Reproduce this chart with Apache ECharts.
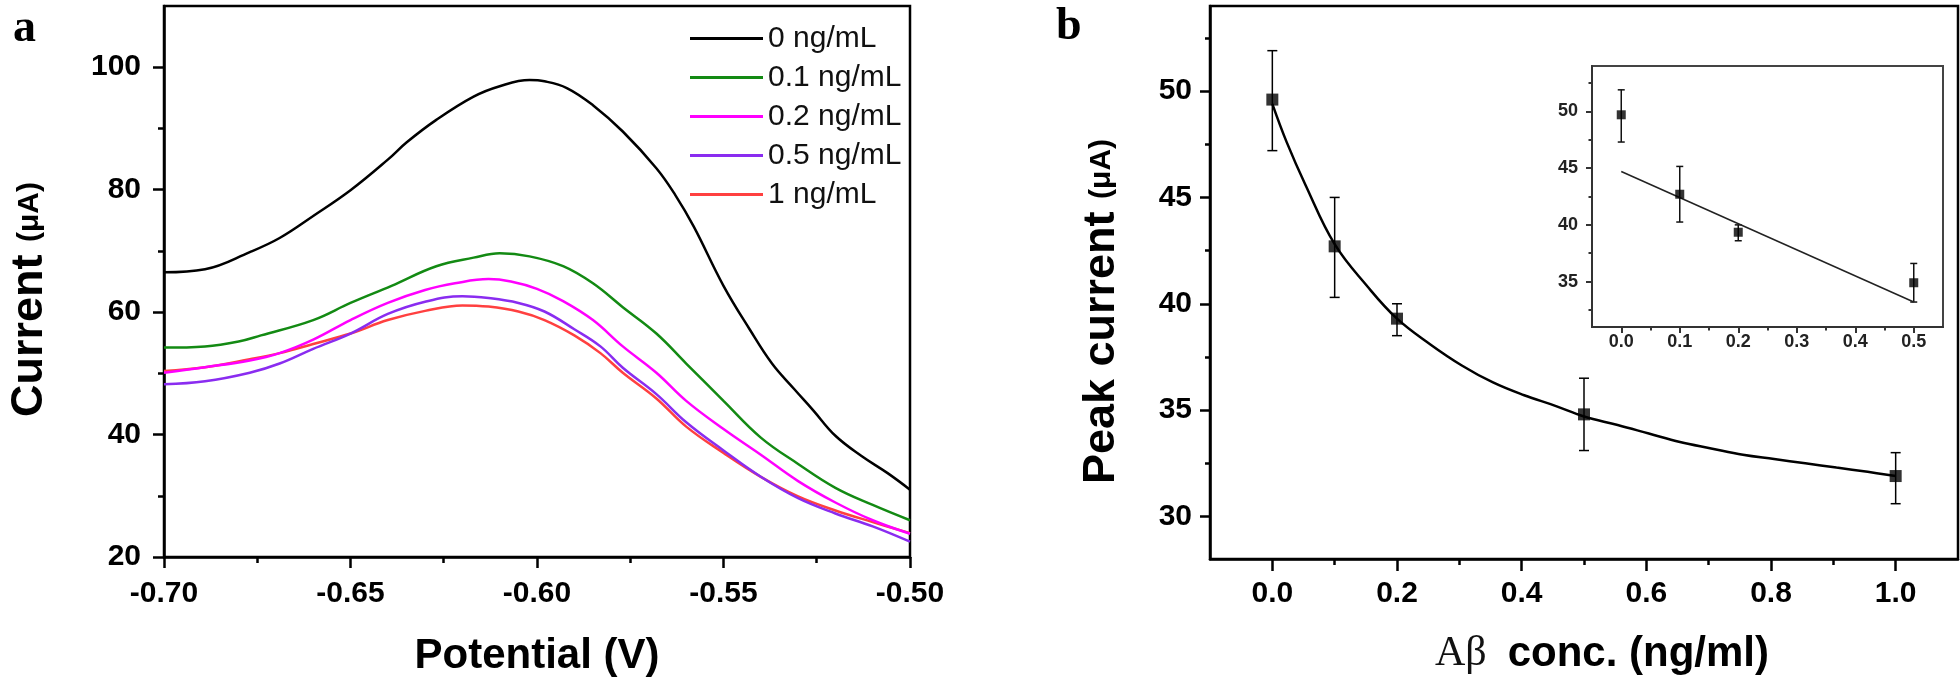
<!DOCTYPE html>
<html>
<head>
<meta charset="utf-8">
<script src="https://cdn.jsdelivr.net/npm/echarts@6/dist/echarts.min.js"></script>
<style>
html,body{margin:0;padding:0;background:#fff;}
#chart{width:1960px;height:682px;}
</style>
</head>
<body>
<div id="chart"></div>
<script>
// ---------- Panel a: DPV curves ----------
const seriesNamesA = ['0 ng/mL', '0.1 ng/mL', '0.2 ng/mL', '0.5 ng/mL', '1 ng/mL'];
const colorsA = ['#000000', '#138a13', '#ff00ff', '#8a2cf0', '#ff4040'];
const curve0 = [[-0.700,66.5],[-0.689,67.0],[-0.677,69.8],[-0.669,72.1],[-0.660,75.7],[-0.650,79.9],[-0.640,84.9],[-0.635,87.7],[-0.627,91.4],[-0.617,95.2],[-0.610,96.9],[-0.602,97.9],[-0.598,97.7],[-0.592,96.6],[-0.585,93.8],[-0.577,89.5],[-0.568,83.5],[-0.563,79.2],[-0.558,74.0],[-0.550,64.3],[-0.543,57.2],[-0.537,51.6],[-0.531,47.4],[-0.526,44.0],[-0.520,39.8],[-0.513,36.5],[-0.506,33.7],[-0.500,31.0]];
const curve01 = [[-0.700,54.2],[-0.689,54.4],[-0.680,55.2],[-0.674,56.2],[-0.660,58.7],[-0.650,61.5],[-0.639,64.3],[-0.627,67.5],[-0.617,68.9],[-0.610,69.6],[-0.602,69.1],[-0.593,67.5],[-0.585,64.7],[-0.577,60.8],[-0.568,56.5],[-0.560,51.6],[-0.550,45.5],[-0.540,39.5],[-0.530,35.2],[-0.520,31.3],[-0.510,28.5],[-0.500,26.0]];
const curve02 = [[-0.700,50.1],[-0.689,51.0],[-0.677,52.1],[-0.669,53.3],[-0.660,55.5],[-0.650,58.7],[-0.640,61.5],[-0.630,63.6],[-0.622,64.7],[-0.613,65.4],[-0.607,65.0],[-0.600,63.8],[-0.593,61.8],[-0.585,58.7],[-0.577,54.4],[-0.568,50.1],[-0.560,45.5],[-0.550,40.9],[-0.540,36.7],[-0.530,32.4],[-0.520,28.9],[-0.510,26.0],[-0.500,23.8]];
const curve05 = [[-0.700,48.2],[-0.689,48.7],[-0.677,50.1],[-0.669,51.6],[-0.660,54.0],[-0.650,56.5],[-0.640,59.7],[-0.630,61.7],[-0.620,62.6],[-0.613,62.3],[-0.605,61.5],[-0.598,60.1],[-0.590,57.2],[-0.583,54.4],[-0.577,50.9],[-0.568,46.6],[-0.560,42.0],[-0.550,37.4],[-0.540,33.1],[-0.530,29.6],[-0.520,27.1],[-0.510,25.0],[-0.500,22.5]];
const curve1 = [[-0.700,50.4],[-0.689,51.0],[-0.677,52.3],[-0.669,53.3],[-0.660,54.8],[-0.650,56.5],[-0.640,58.7],[-0.630,60.2],[-0.620,61.1],[-0.613,60.9],[-0.605,60.1],[-0.598,58.7],[-0.590,56.2],[-0.583,53.3],[-0.577,50.1],[-0.568,45.9],[-0.560,41.3],[-0.550,37.0],[-0.540,33.1],[-0.530,29.9],[-0.520,27.6],[-0.510,25.7],[-0.500,23.9]];
const curvesA = [curve0, curve01, curve02, curve05, curve1];
const xTicksA = [-0.70, -0.65, -0.60, -0.55, -0.50];
const xMinorA = [-0.675, -0.625, -0.575, -0.525];
const yTicksA = [20, 40, 60, 80, 100];
const yMinorA = [30, 50, 70, 90];

// ---------- Panel b: peak current vs concentration ----------
const concB = [0, 0.1, 0.2, 0.5, 1.0];
const peakB = [49.6, 42.7, 39.3, 34.8, 31.9];
const errLowB = [47.2, 40.3, 38.5, 33.1, 30.6];
const errHighB = [51.9, 45.0, 40.0, 36.5, 33.0];
const fitXB = [0, 0.023, 0.053, 0.1, 0.153, 0.2, 0.253, 0.304, 0.354, 0.404, 0.454, 0.5, 0.554, 0.604, 0.654, 0.704, 0.755, 0.805, 0.855, 0.905, 0.955, 1.0];
const fitYB = [49.4, 47.6, 45.6, 42.8, 40.8, 39.3, 38.1, 37.1, 36.3, 35.7, 35.2, 34.7, 34.3, 33.9, 33.5, 33.2, 32.9, 32.7, 32.5, 32.3, 32.1, 31.9];
const xTicksB = [0, 0.2, 0.4, 0.6, 0.8, 1.0];
const xMinorB = [0.1, 0.3, 0.5, 0.7, 0.9];
const yTicksB = [30, 35, 40, 45, 50];
const yMinorB = [32.5, 37.5, 42.5, 47.5, 52.5];

// ---------- Inset: linear range ----------
const concI = [0, 0.1, 0.2, 0.5];
const peakI = [49.7, 42.7, 39.35, 34.9];
const errLowI = [47.3, 40.25, 38.6, 33.2];
const errHighI = [51.9, 45.15, 40.0, 36.6];
const fitXI = [0, 0.5];
const fitYI = [44.7, 33.2];
const xTicksI = [0, 0.1, 0.2, 0.3, 0.4, 0.5];
const xMinorI = [0.05, 0.15, 0.25, 0.35, 0.45];
const yTicksI = [35, 40, 45, 50];
const yMinorI = [32.5, 37.5, 42.5, 47.5, 52.5];

const FF = "'Liberation Sans', Arial, Helvetica, sans-serif";
const SERIF = "'Liberation Serif', 'Times New Roman', serif";

function majorAxis(o) {
  return {
    type: 'value', gridIndex: o.grid, min: o.min, max: o.max, position: o.position,
    splitLine: {show: false},
    axisLine: {show: true, onZero: false, lineStyle: {color: o.lineColor || '#000', width: o.lw}},
    axisTick: {show: true, inside: false, length: o.tickLen, customValues: o.ticks, lineStyle: {color: o.lineColor || '#000', width: o.lw}},
    axisLabel: {show: true, customValues: o.ticks, margin: o.margin, color: o.labelColor || '#000',
      fontFamily: FF, fontWeight: 'bold', fontSize: o.fontSize, formatter: o.fmt},
    name: o.name || '', nameLocation: 'middle', nameGap: o.nameGap || 0, nameRotate: o.nameRotate,
    nameTextStyle: o.nameTextStyle || {}
  };
}
function minorAxis(o) {
  return {
    type: 'value', gridIndex: o.grid, min: o.min, max: o.max, position: o.position,
    splitLine: {show: false},
    axisLine: {show: false, onZero: false},
    axisTick: {show: true, inside: false, length: o.tickLen, customValues: o.ticks, lineStyle: {color: o.lineColor || '#000', width: o.lw}},
    axisLabel: {show: false, customValues: o.ticks}
  };
}

function errRender(capW, lw, color) {
  return function (params, api) {
    const x = api.value(0), lo = api.value(1), hi = api.value(2);
    const p1 = api.coord([x, lo]), p2 = api.coord([x, hi]);
    const st = {stroke: color, lineWidth: lw};
    return {type: 'group', children: [
      {type: 'line', shape: {x1: p1[0], y1: p1[1], x2: p2[0], y2: p2[1]}, style: st},
      {type: 'line', shape: {x1: p1[0] - capW, y1: p1[1], x2: p1[0] + capW, y2: p1[1]}, style: st},
      {type: 'line', shape: {x1: p2[0] - capW, y1: p2[1], x2: p2[0] + capW, y2: p2[1]}, style: st}
    ]};
  };
}

const chart = echarts.init(document.getElementById('chart'), null, {renderer: 'canvas'});

const xAxes = [
  majorAxis({grid: 0, min: -0.7, max: -0.5, position: 'bottom', lw: 2.5, tickLen: 11, ticks: xTicksA, margin: 22, fontSize: 30,
    fmt: v => v.toFixed(2), name: 'Potential (V)', nameGap: 78,
    nameTextStyle: {fontFamily: FF, fontWeight: 'bold', fontSize: 42, color: '#000'}}),
  minorAxis({grid: 0, min: -0.7, max: -0.5, position: 'bottom', lw: 2.5, tickLen: 6, ticks: xMinorA}),
  majorAxis({grid: 1, min: -0.1, max: 1.1, position: 'bottom', lw: 2.5, tickLen: 12, ticks: xTicksB, margin: 20, fontSize: 30,
    fmt: v => v.toFixed(1), name: '{s|Aβ\u00a0\u00a0}{b|conc. (ng/ml)}', nameGap: 74,
    nameTextStyle: {padding: [0, 0, 0, 36], rich: {
      s: {fontFamily: SERIF, fontSize: 42, color: '#111'},
      b: {fontFamily: FF, fontWeight: 'bold', fontSize: 42, color: '#000'}}}}),
  minorAxis({grid: 1, min: -0.1, max: 1.1, position: 'bottom', lw: 2.5, tickLen: 6, ticks: xMinorB}),
  majorAxis({grid: 2, min: -0.05, max: 0.55, position: 'bottom', lw: 2, lineColor: '#333', tickLen: 6, ticks: xTicksI, margin: 6, fontSize: 18,
    labelColor: '#222', fmt: v => v.toFixed(1)}),
  minorAxis({grid: 2, min: -0.05, max: 0.55, position: 'bottom', lw: 2, lineColor: '#333', tickLen: 3.5, ticks: xMinorI})
];
const yAxes = [
  majorAxis({grid: 0, min: 20, max: 110, position: 'left', lw: 2.5, tickLen: 11, ticks: yTicksA, margin: 23, fontSize: 30,
    fmt: v => String(v), name: '{a|Current\u00a0}{b|(μA)}', nameGap: 112, nameRotate: 90,
    nameTextStyle: {padding: [0, 36, 0, 0], rich: {
      a: {fontFamily: FF, fontWeight: 'bold', fontSize: 45, color: '#000'},
      b: {fontFamily: FF, fontWeight: 'bold', fontSize: 30, color: '#000'}}}}),
  minorAxis({grid: 0, min: 20, max: 110, position: 'left', lw: 2.5, tickLen: 6, ticks: yMinorA}),
  majorAxis({grid: 1, min: 28, max: 54, position: 'left', lw: 2.5, tickLen: 10, ticks: yTicksB, margin: 18, fontSize: 30,
    fmt: v => String(v), name: '{a|Peak current\u00a0}{b|(μA)}', nameGap: 86, nameRotate: 90,
    nameTextStyle: {padding: [0, 58, 0, 0], rich: {
      a: {fontFamily: FF, fontWeight: 'bold', fontSize: 45, color: '#000'},
      b: {fontFamily: FF, fontWeight: 'bold', fontSize: 30, color: '#000'}}}}),
  minorAxis({grid: 1, min: 28, max: 54, position: 'left', lw: 2.5, tickLen: 5, ticks: yMinorB}),
  majorAxis({grid: 2, min: 31, max: 54, position: 'left', lw: 2, lineColor: '#333', tickLen: 6, ticks: yTicksI, margin: 14, fontSize: 18,
    labelColor: '#222', fmt: v => String(v)}),
  minorAxis({grid: 2, min: 31, max: 54, position: 'left', lw: 2, lineColor: '#333', tickLen: 3.5, ticks: yMinorI})
];

const series = [];
curvesA.forEach((d, i) => {
  series.push({
    name: seriesNamesA[i], type: 'line', xAxisIndex: 0, yAxisIndex: 0, data: d,
    showSymbol: false, symbol: 'none', smooth: 0.4, color: colorsA[i],
    lineStyle: {color: colorsA[i], width: 2.5}, z: 5 - i
  });
});
series.push({
  type: 'line', xAxisIndex: 2, yAxisIndex: 2, data: fitXB.map((x, i) => [x, fitYB[i]]),
  showSymbol: false, symbol: 'none', smooth: 0.4, lineStyle: {color: '#000', width: 2.5}
});
series.push({
  type: 'custom', xAxisIndex: 2, yAxisIndex: 2, renderItem: errRender(5, 1.5, '#000'),
  encode: {x: 0, y: [1, 2]}, data: concB.map((x, i) => [x, errLowB[i], errHighB[i]])
});
series.push({
  type: 'scatter', xAxisIndex: 2, yAxisIndex: 2, symbol: 'rect', symbolSize: 12,
  itemStyle: {color: '#000'}, data: concB.map((x, i) => [x, peakB[i]]), z: 10
});
series.push({
  type: 'line', xAxisIndex: 4, yAxisIndex: 4, data: fitXI.map((x, i) => [x, fitYI[i]]),
  showSymbol: false, symbol: 'none', lineStyle: {color: '#222', width: 1.5}
});
series.push({
  type: 'custom', xAxisIndex: 4, yAxisIndex: 4, renderItem: errRender(3.5, 1.5, '#111'),
  encode: {x: 0, y: [1, 2]}, data: concI.map((x, i) => [x, errLowI[i], errHighI[i]])
});
series.push({
  type: 'scatter', xAxisIndex: 4, yAxisIndex: 4, symbol: 'rect', symbolSize: 9,
  itemStyle: {color: '#000'}, data: concI.map((x, i) => [x, peakI[i]]), z: 10
});

chart.setOption({
  animation: false,
  backgroundColor: '#fff',
  grid: [
    {left: 164, right: 1050, top: 6, bottom: 123, show: true, borderColor: '#000', borderWidth: 2.5, backgroundColor: 'transparent'},
    {left: 1210, right: 2, top: 6, bottom: 123, show: true, borderColor: '#000', borderWidth: 2.5, backgroundColor: 'transparent'},
    {left: 1592, right: 17, top: 66, bottom: 355, show: true, borderColor: '#444', borderWidth: 2, backgroundColor: '#fff'}
  ],
  legend: {
    data: seriesNamesA, orient: 'vertical', left: 685, top: 14, itemWidth: 73, itemHeight: 3, itemGap: 0,
    icon: 'rect', selectedMode: false,
    textStyle: {fontFamily: FF, fontSize: 30, color: '#111', lineHeight: 39}
  },
  graphic: [
    {type: 'text', left: 13, top: 6, style: {text: 'a', font: "bold 46px 'Liberation Serif', serif", fill: '#000'}},
    {type: 'text', left: 1056, top: 4, style: {text: 'b', font: "bold 46px 'Liberation Serif', serif", fill: '#000'}}
  ],
  xAxis: xAxes,
  yAxis: yAxes,
  series: series
});
</script>
</body>
</html>
